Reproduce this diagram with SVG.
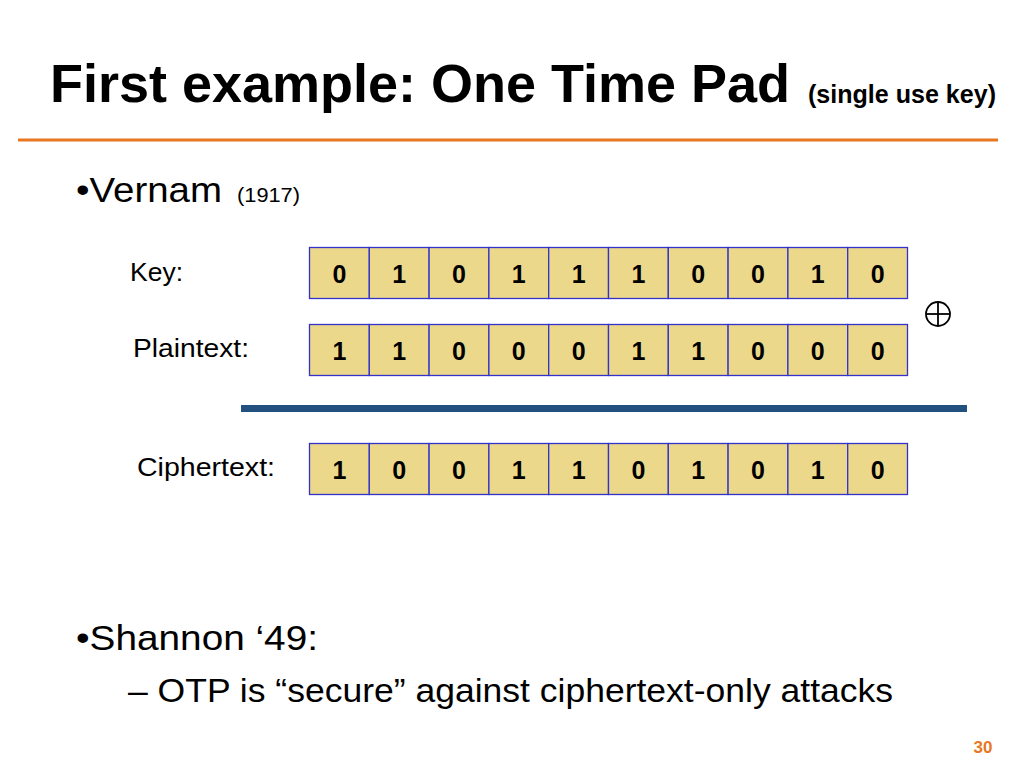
<svg xmlns="http://www.w3.org/2000/svg" width="1024" height="768" viewBox="0 0 1024 768">
<defs>
<style>
.c{fill:#ecd88a;stroke:#3333cc;stroke-width:1.3}
.d{font-family:"Liberation Sans",Arial,sans-serif;font-weight:bold;font-size:25px;text-anchor:middle;fill:#000}
.l{font-family:"Liberation Sans",Arial,sans-serif;font-size:26px;fill:#000}
.b{font-family:"Liberation Sans",Arial,sans-serif;font-size:35px;fill:#000}
</style>
<g id="cell"><rect class="c" x="0" y="0" width="59.8" height="51"/></g>
</defs>
<rect width="1024" height="768" fill="#fff"/>
<text x="50" y="102" font-family="Liberation Sans,Arial,sans-serif" font-weight="bold" font-size="54" fill="#000" textLength="740" lengthAdjust="spacingAndGlyphs">First example: One Time Pad</text>
<text x="808" y="103" font-family="Liberation Sans,Arial,sans-serif" font-weight="bold" font-size="25" fill="#000" textLength="188" lengthAdjust="spacingAndGlyphs">(single use key)</text>
<line x1="18" y1="140" x2="998" y2="140" stroke="#e87722" stroke-width="3"/>
<text class="b" x="76" y="202" textLength="146" lengthAdjust="spacingAndGlyphs">•Vernam</text>
<text x="237" y="202" font-family="Liberation Sans,Arial,sans-serif" font-size="20" textLength="63" lengthAdjust="spacingAndGlyphs">(1917)</text>
<text class="l" x="130" y="281" textLength="53" lengthAdjust="spacingAndGlyphs">Key:</text>
<text class="l" x="133" y="357" textLength="116" lengthAdjust="spacingAndGlyphs">Plaintext:</text>
<text class="l" x="137" y="476" textLength="138" lengthAdjust="spacingAndGlyphs">Ciphertext:</text>
<g id="key">
<use href="#cell" x="309.5" y="247.5"/><use href="#cell" x="369.3" y="247.5"/><use href="#cell" x="429.1" y="247.5"/><use href="#cell" x="488.9" y="247.5"/><use href="#cell" x="548.7" y="247.5"/><use href="#cell" x="608.5" y="247.5"/><use href="#cell" x="668.3" y="247.5"/><use href="#cell" x="728.1" y="247.5"/><use href="#cell" x="787.9" y="247.5"/><use href="#cell" x="847.7" y="247.5"/>
<text class="d" y="283"><tspan x="339.4">0</tspan><tspan x="399.2">1</tspan><tspan x="459">0</tspan><tspan x="518.8">1</tspan><tspan x="578.6">1</tspan><tspan x="638.4">1</tspan><tspan x="698.2">0</tspan><tspan x="758">0</tspan><tspan x="817.8">1</tspan><tspan x="877.6">0</tspan></text>
</g>
<g id="plaintext">
<use href="#cell" x="309.5" y="324.5"/><use href="#cell" x="369.3" y="324.5"/><use href="#cell" x="429.1" y="324.5"/><use href="#cell" x="488.9" y="324.5"/><use href="#cell" x="548.7" y="324.5"/><use href="#cell" x="608.5" y="324.5"/><use href="#cell" x="668.3" y="324.5"/><use href="#cell" x="728.1" y="324.5"/><use href="#cell" x="787.9" y="324.5"/><use href="#cell" x="847.7" y="324.5"/>
<text class="d" y="360"><tspan x="339.4">1</tspan><tspan x="399.2">1</tspan><tspan x="459">0</tspan><tspan x="518.8">0</tspan><tspan x="578.6">0</tspan><tspan x="638.4">1</tspan><tspan x="698.2">1</tspan><tspan x="758">0</tspan><tspan x="817.8">0</tspan><tspan x="877.6">0</tspan></text>
</g>
<g id="ciphertext">
<use href="#cell" x="309.5" y="443.5"/><use href="#cell" x="369.3" y="443.5"/><use href="#cell" x="429.1" y="443.5"/><use href="#cell" x="488.9" y="443.5"/><use href="#cell" x="548.7" y="443.5"/><use href="#cell" x="608.5" y="443.5"/><use href="#cell" x="668.3" y="443.5"/><use href="#cell" x="728.1" y="443.5"/><use href="#cell" x="787.9" y="443.5"/><use href="#cell" x="847.7" y="443.5"/>
<text class="d" y="479"><tspan x="339.4">1</tspan><tspan x="399.2">0</tspan><tspan x="459">0</tspan><tspan x="518.8">1</tspan><tspan x="578.6">1</tspan><tspan x="638.4">0</tspan><tspan x="698.2">1</tspan><tspan x="758">0</tspan><tspan x="817.8">1</tspan><tspan x="877.6">0</tspan></text>
</g>
<g id="xor" fill="none" stroke="#000" stroke-width="1.8">
<circle cx="938" cy="314" r="12"/><line x1="926" y1="314" x2="950" y2="314"/><line x1="938" y1="302" x2="938" y2="326"/>
</g>
<line x1="241" y1="408.5" x2="967" y2="408.5" stroke="#22507f" stroke-width="7"/>
<text class="b" x="76" y="650" textLength="242" lengthAdjust="spacingAndGlyphs">•Shannon ‘49:</text>
<text x="128" y="702" font-family="Liberation Sans,Arial,sans-serif" font-size="33" textLength="765" lengthAdjust="spacingAndGlyphs">– OTP is “secure” against ciphertext-only attacks</text>
<text x="983" y="753" font-family="Liberation Sans,Arial,sans-serif" font-weight="bold" font-size="17" text-anchor="middle" fill="#e87722">30</text>
</svg>
